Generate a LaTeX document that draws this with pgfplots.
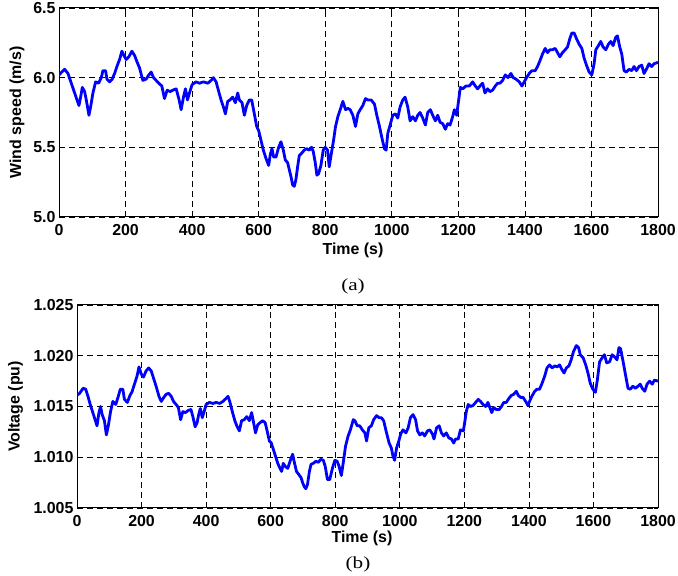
\documentclass[border=0pt]{standalone}
\usepackage{pgfplots}
\pgfplotsset{compat=1.18}
\usepackage{pgfplotstable}
\usepackage{fontspec}
\setmainfont{Liberation Sans}
\newfontfamily\seriffont{Liberation Serif}

\pgfplotstableread{
t v
0 6.02
8 6.04
17 6.06
27 6.03
37 5.96
47 5.89
54 5.84
60 5.80
65 5.86
70 5.93
77 5.90
82 5.84
90 5.73
95 5.79
102 5.89
110 5.97
119 5.96
127 6.00
132 6.05
140 6.05
144 5.99
152 5.97
160 5.99
167 6.03
174 6.08
182 6.13
189 6.19
195 6.16
202 6.13
210 6.15
219 6.19
227 6.16
235 6.11
242 6.07
252 5.98
262 5.99
270 6.02
277 6.04
284 6.00
292 5.98
300 5.96
309 5.94
317 5.85
325 5.91
334 5.90
342 5.91
352 5.92
360 5.85
367 5.77
374 5.86
380 5.92
386 5.84
392 5.89
400 5.95
412 5.97
422 5.96
434 5.97
447 5.96
457 5.98
464 6.00
472 5.97
480 5.90
487 5.84
494 5.79
500 5.74
507 5.83
514 5.84
522 5.86
530 5.82
537 5.89
542 5.84
550 5.82
557 5.73
564 5.80
572 5.84
579 5.84
587 5.74
594 5.65
600 5.62
607 5.55
614 5.48
622 5.42
630 5.37
635 5.45
640 5.49
645 5.43
652 5.43
660 5.50
667 5.54
674 5.48
680 5.41
687 5.39
692 5.34
697 5.29
702 5.23
707 5.22
712 5.27
717 5.36
722 5.44
730 5.46
737 5.48
744 5.49
752 5.48
759 5.50
764 5.47
770 5.39
775 5.30
780 5.31
787 5.37
794 5.48
800 5.50
807 5.48
812 5.36
818 5.45
825 5.55
831 5.65
838 5.72
845 5.77
853 5.83
861 5.77
868 5.78
875 5.77
883 5.73
891 5.65
898 5.74
905 5.77
913 5.80
921 5.85
928 5.84
938 5.84
948 5.81
955 5.73
963 5.65
971 5.56
978 5.49
983 5.48
988 5.60
995 5.66
1003 5.73
1011 5.74
1018 5.71
1025 5.79
1033 5.84
1040 5.86
1048 5.79
1055 5.69
1063 5.72
1071 5.69
1078 5.73
1085 5.75
1093 5.71
1101 5.66
1108 5.75
1116 5.77
1123 5.73
1131 5.69
1138 5.73
1145 5.68
1153 5.67
1161 5.63
1168 5.67
1175 5.66
1183 5.72
1188 5.77
1195 5.73
1201 5.84
1206 5.93
1213 5.92
1223 5.94
1233 5.94
1243 5.97
1251 5.94
1258 5.92
1265 5.94
1273 5.96
1280 5.89
1288 5.92
1295 5.90
1303 5.91
1311 5.94
1318 5.96
1325 5.96
1333 5.98
1341 6.02
1349 6.00
1358 6.03
1365 6.00
1373 5.99
1383 5.97
1391 5.94
1398 5.97
1405 6.00
1413 6.03
1421 6.05
1431 6.05
1438 6.08
1445 6.12
1453 6.17
1461 6.21
1468 6.18
1475 6.20
1483 6.20
1491 6.21
1498 6.18
1505 6.15
1513 6.18
1521 6.20
1528 6.22
1535 6.28
1541 6.32
1548 6.32
1555 6.28
1563 6.24
1571 6.21
1578 6.14
1585 6.09
1593 6.04
1601 6.02
1608 6.10
1613 6.20
1621 6.23
1628 6.26
1635 6.22
1643 6.20
1651 6.24
1658 6.26
1665 6.23
1673 6.29
1678 6.30
1685 6.22
1691 6.17
1698 6.05
1705 6.04
1713 6.06
1721 6.05
1728 6.08
1735 6.05
1743 6.08
1751 6.09
1758 6.03
1765 6.06
1773 6.10
1781 6.08
1788 6.10
1800 6.11
}\windtable

\pgfplotstableread{
t v
0 1.0161
8 1.0163
19 1.0168
27 1.0167
34 1.0160
41 1.0152
49 1.0144
57 1.0136
62 1.0131
68 1.0144
73 1.0150
78 1.0142
85 1.0136
91 1.0122
97 1.0131
104 1.0145
111 1.0155
120 1.0152
128 1.0160
134 1.0167
142 1.0167
147 1.0157
156 1.0154
163 1.0160
171 1.0165
178 1.0172
186 1.0180
192 1.0189
199 1.0182
206 1.0179
214 1.0185
222 1.0188
230 1.0185
237 1.0178
245 1.0170
254 1.0160
261 1.0155
269 1.0159
276 1.0162
284 1.0163
292 1.0160
299 1.0155
307 1.0152
314 1.0149
321 1.0137
328 1.0145
336 1.0144
344 1.0146
353 1.0147
359 1.0140
366 1.0130
372 1.0134
377 1.0142
382 1.0148
388 1.0139
393 1.0144
400 1.0152
410 1.0154
421 1.0153
431 1.0154
442 1.0153
452 1.0155
462 1.0158
468 1.0160
474 1.0154
482 1.0144
489 1.0136
495 1.0131
503 1.0126
510 1.0136
518 1.0137
526 1.0140
534 1.0136
541 1.0144
546 1.0136
553 1.0124
560 1.0132
567 1.0134
575 1.0136
583 1.0134
589 1.0126
596 1.0116
602 1.0114
608 1.0108
615 1.0101
622 1.0094
629 1.0089
634 1.0086
639 1.0094
645 1.0091
653 1.0089
660 1.0096
668 1.0103
674 1.0094
680 1.0086
687 1.0083
694 1.0080
699 1.0075
704 1.0071
709 1.0069
714 1.0073
720 1.0086
725 1.0093
732 1.0094
740 1.0096
748 1.0095
755 1.0098
763 1.0097
769 1.0091
776 1.0078
783 1.0078
792 1.0090
799 1.0097
806 1.0096
812 1.0091
819 1.0082
825 1.0095
832 1.0111
840 1.0121
847 1.0127
856 1.0137
861 1.0136
868 1.0131
876 1.0131
884 1.0127
892 1.0124
897 1.0116
904 1.0129
912 1.0131
919 1.0137
928 1.0141
936 1.0139
943 1.0139
950 1.0136
959 1.0124
967 1.0114
974 1.0109
979 1.0101
984 1.0097
990 1.0109
997 1.0116
1003 1.0123
1010 1.0127
1019 1.0124
1026 1.0129
1033 1.0139
1041 1.0142
1049 1.0137
1055 1.0126
1062 1.0122
1070 1.0124
1077 1.0121
1086 1.0126
1093 1.0127
1101 1.0123
1106 1.0118
1114 1.0129
1122 1.0131
1129 1.0124
1136 1.0121
1144 1.0124
1152 1.0119
1160 1.0118
1167 1.0114
1173 1.0118
1181 1.0118
1188 1.0127
1197 1.0126
1201 1.0134
1206 1.0145
1212 1.0152
1219 1.0150
1227 1.0151
1235 1.0154
1243 1.0157
1250 1.0155
1258 1.0152
1266 1.0150
1273 1.0154
1279 1.0149
1285 1.0144
1291 1.0149
1299 1.0147
1308 1.0147
1315 1.0150
1322 1.0154
1330 1.0154
1338 1.0158
1346 1.0161
1353 1.0162
1361 1.0165
1367 1.0161
1374 1.0159
1382 1.0159
1390 1.0155
1397 1.0151
1402 1.0155
1409 1.0160
1418 1.0165
1425 1.0167
1433 1.0167
1441 1.0173
1449 1.0180
1456 1.0188
1464 1.0191
1472 1.0188
1480 1.0190
1488 1.0189
1495 1.0191
1503 1.0186
1509 1.0183
1516 1.0188
1524 1.0190
1531 1.0196
1538 1.0204
1547 1.0210
1554 1.0208
1559 1.0201
1568 1.0198
1576 1.0191
1583 1.0183
1590 1.0173
1598 1.0167
1606 1.0164
1612 1.0176
1619 1.0194
1627 1.0198
1634 1.0201
1641 1.0193
1650 1.0194
1658 1.0201
1665 1.0199
1673 1.0196
1679 1.0208
1684 1.0207
1692 1.0194
1700 1.0180
1707 1.0168
1714 1.0167
1722 1.0170
1730 1.0168
1738 1.0170
1745 1.0172
1751 1.0168
1759 1.0165
1766 1.0172
1774 1.0175
1782 1.0172
1789 1.0176
1800 1.0175
}\volttable

\pgfplotsset{
  myaxis/.style={
    scale only axis,
    anchor=south west,
    xmin=0, xmax=1800,
    xtick={0,200,...,1800},
    grid=major,
    major grid style={black, line width=0.6pt, dash pattern=on 6bp off 4bp},
    axis line style={black, line width=1pt},
    tick align=inside,
    major tick length=4bp,
    tick style={black, line width=0.8pt},
    /pgf/number format/assume math mode=true,
    /pgf/number format/1000 sep={},
    ticklabel style={font=\fontsize{16}{18}\selectfont\bfseries},
    xticklabel style={yshift=-4bp},
    label style={font=\fontsize{16}{18}\selectfont\bfseries},
    scaled ticks=false,
  }
}

\begin{document}
\begin{tikzpicture}[x=1bp,y=1bp]
\useasboundingbox (0,0) rectangle (678,576);

% (a) wind speed
\begin{axis}[myaxis,
  at={(59bp,359bp)},
  width=599bp, height=209bp,
  ymin=5.0, ymax=6.5,
  ytick={5.0,5.5,6.0,6.5},
  yticklabel style={/pgf/number format/fixed,/pgf/number format/fixed zerofill,/pgf/number format/precision=1},
  xlabel={Time (s)},
  ylabel={Wind speed (m/s)},
  xlabel style={at={(axis description cs:0.4908,-0.158)}, anchor=center},
  ylabel style={at={(axis description cs:-0.0701,0.5)}, anchor=center},
]
\addplot[blue, line width=2.8bp, line join=round] table[x=t,y=v] {\windtable};
\end{axis}

% (b) voltage
\begin{axis}[myaxis,
  at={(77bp,68bp)},
  width=581bp, height=203bp,
  ymin=1.005, ymax=1.025,
  ytick={1.005,1.010,1.015,1.020,1.025},
  yticklabel style={/pgf/number format/fixed,/pgf/number format/fixed zerofill,/pgf/number format/precision=3},
  xlabel={Time (s)},
  ylabel={Voltage (pu)},
  xlabel style={at={(axis description cs:0.4905,-0.15)}, anchor=center},
  ylabel style={at={(axis description cs:-0.1059,0.5)}, anchor=center},
]
\addplot[blue, line width=2.8bp, line join=round] table[x=t,y=v] {\volttable};
\end{axis}

\node[font=\seriffont\fontsize{17}{19}\selectfont, xscale=1.25] at (353,290) {(a)};
\node[font=\seriffont\fontsize{17}{19}\selectfont, xscale=1.25] at (358,12) {(b)};
\end{tikzpicture}
\end{document}
